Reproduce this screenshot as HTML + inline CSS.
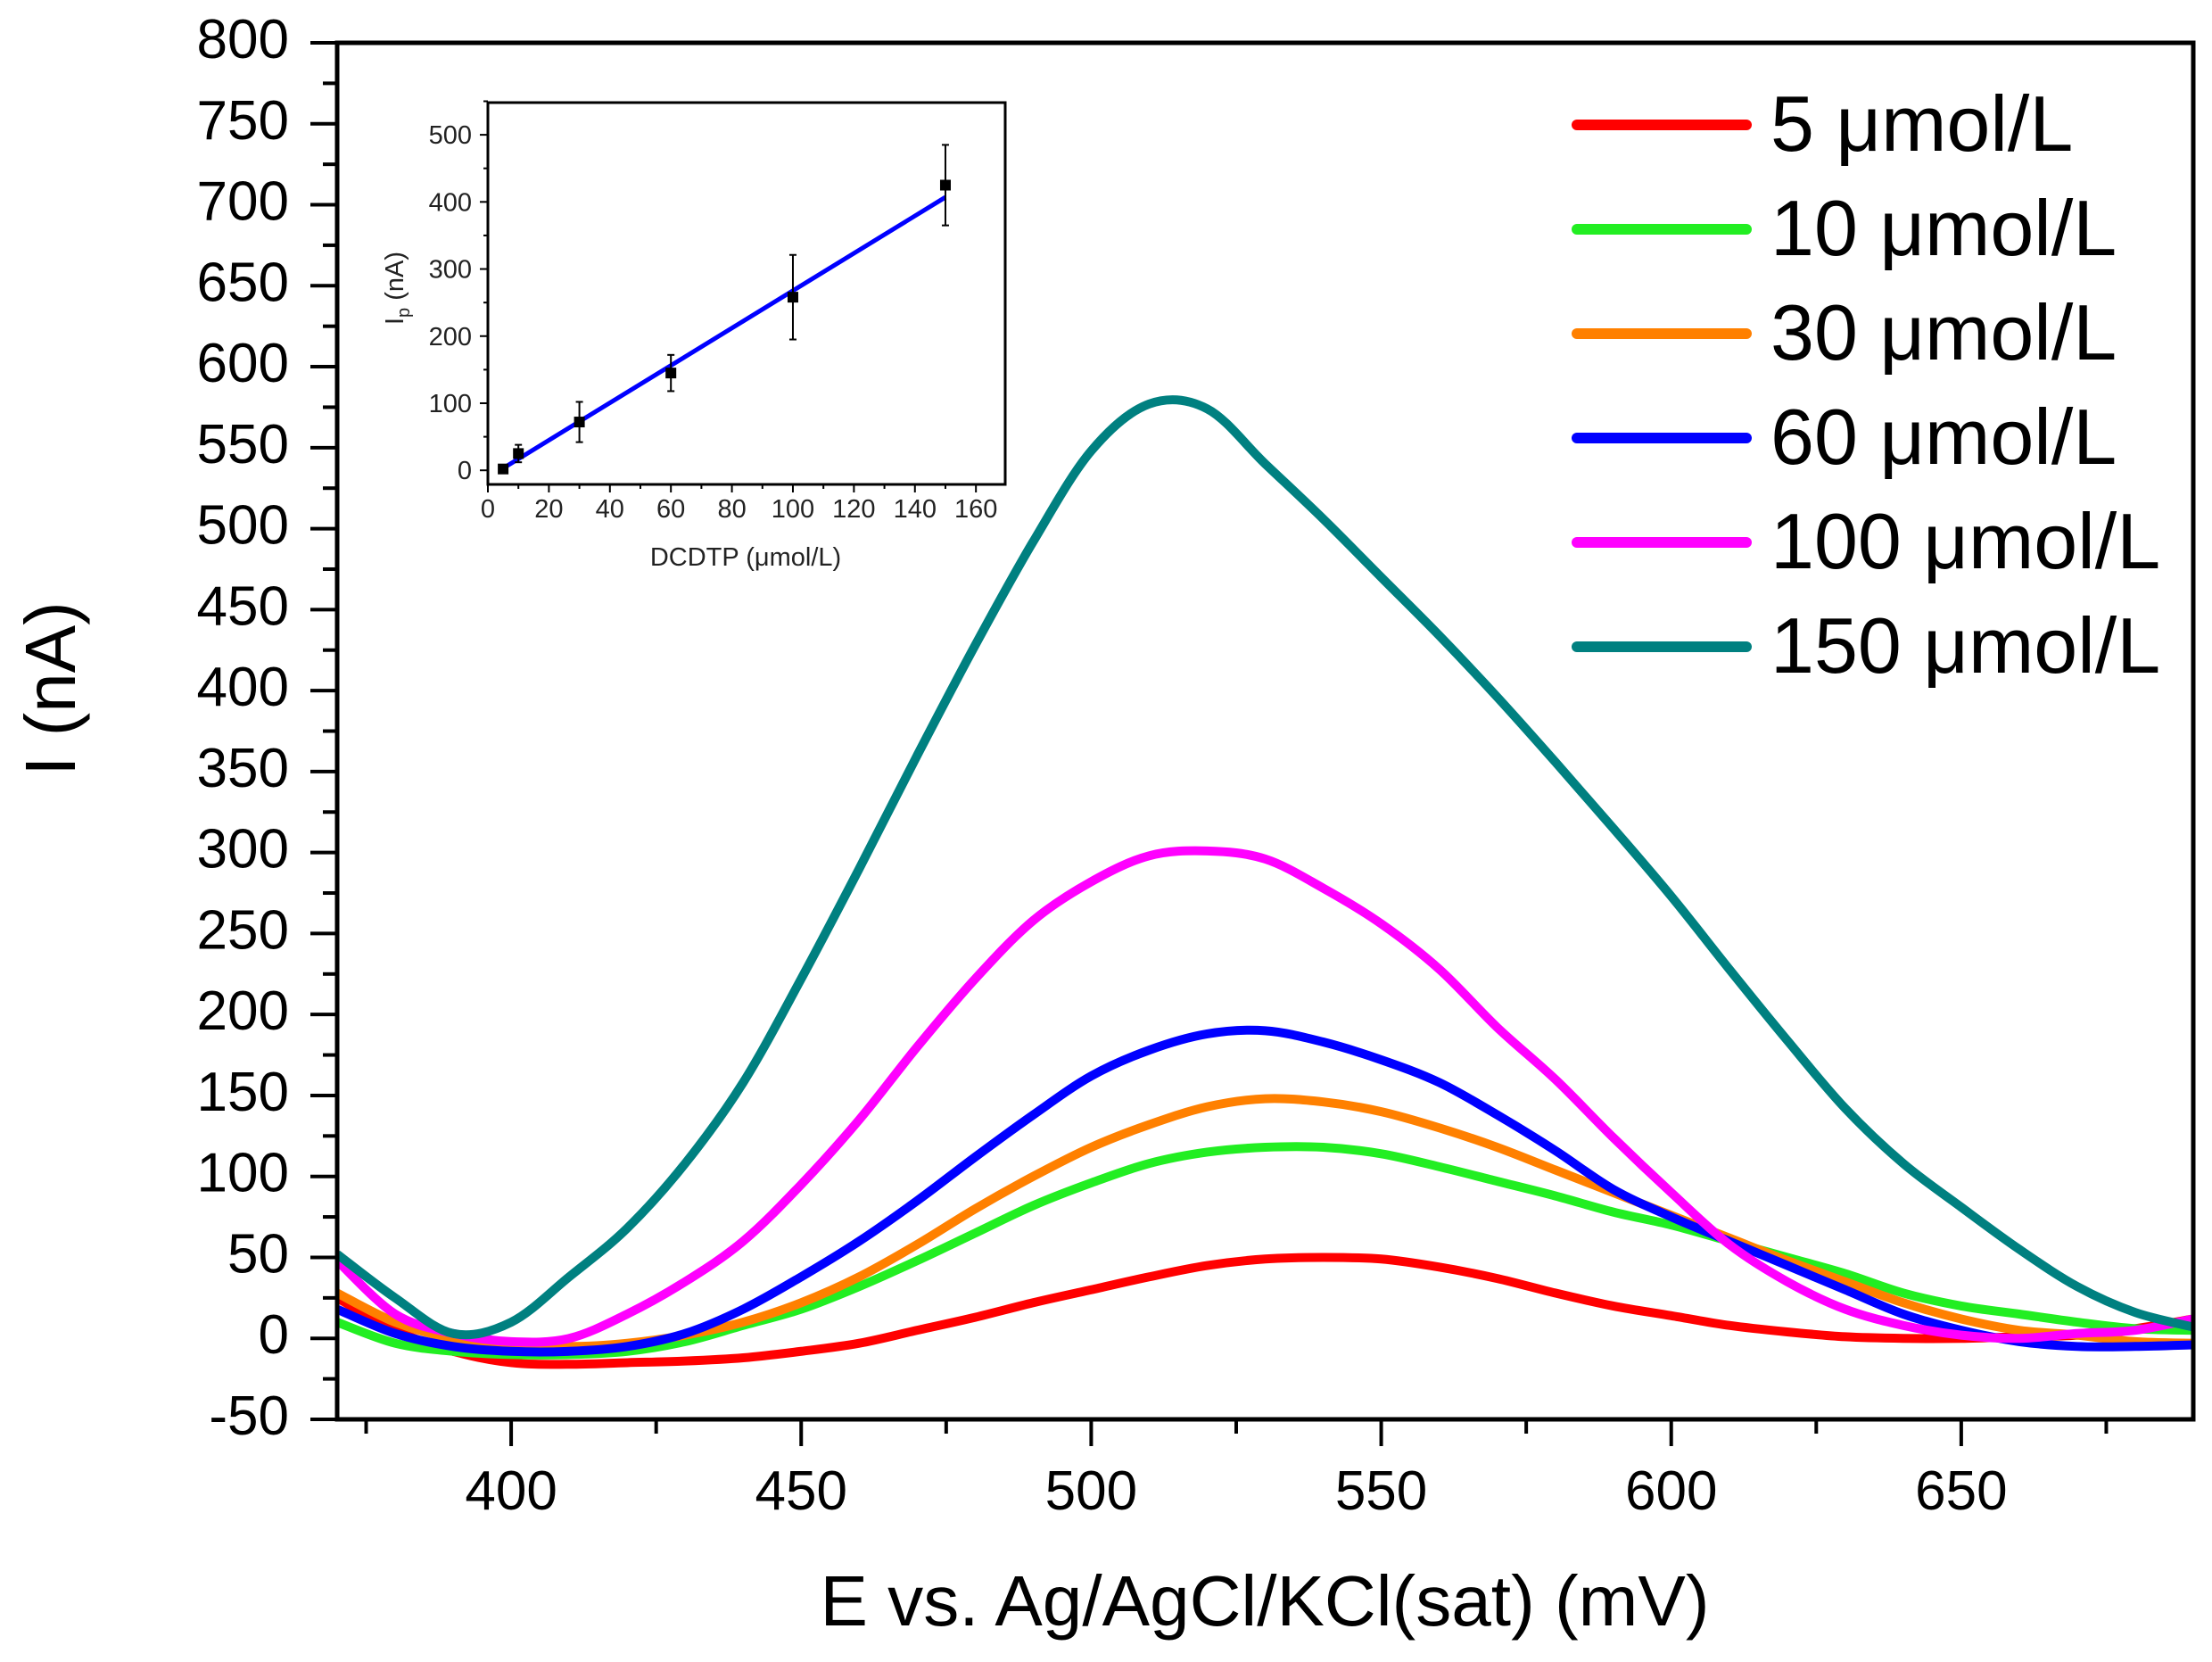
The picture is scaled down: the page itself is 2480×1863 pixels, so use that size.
<!DOCTYPE html>
<html><head><meta charset="utf-8"><style>
html,body{margin:0;padding:0;background:#fff;}
svg{display:block;font-family:"Liberation Sans",Arial,sans-serif;}
</style></head><body>
<svg id="chart" width="2480" height="1863" viewBox="0 0 2480 1863" xmlns="http://www.w3.org/2000/svg">
<rect width="2480" height="1863" fill="#fff"/>
<g id="main"></g>
<g id="inset"></g>
</svg>
<script>
const potentials = [370,380,390,400,410,420,430,440,450,460,470,480,490,500,510,520,530,540,550,560,570,580,590,600,610,620,630,640,650,660,670,680,690];
const seriesNames = ["5 μmol/L","10 μmol/L","30 μmol/L","60 μmol/L","100 μmol/L","150 μmol/L"];
const seriesColors = ["#ff0000","#22ee22","#ff8000","#0000ff","#ff00ff","#008080"];
const s5   = [25,5,-8,-15,-16,-15,-14,-12,-8,-3,5,13,22,30,38,45,49,50,49,44,37,28,20,14,8,4,1,0,0,1,2,6,12];
const s10  = [10,-3,-8,-10,-10,-8,-2,8,18,32,48,65,82,96,108,115,118,118,114,106,97,88,78,70,60,50,40,28,20,15,10,6,5];
const s30  = [28,10,0,-3,-5,-3,2,10,22,38,58,80,100,118,132,143,148,146,140,130,118,104,90,76,62,48,35,22,12,5,2,-2,-3];
const s60  = [18,3,-5,-8,-8,-5,3,18,38,60,85,112,138,162,178,188,190,183,172,158,138,116,92,75,60,45,30,15,5,-2,-5,-5,-4];
const s100 = [48,15,3,-2,0,15,35,60,95,135,180,222,258,282,298,301,296,278,256,228,192,160,124,90,58,35,18,8,2,0,3,5,12];
const s150 = [52,25,3,10,38,68,108,158,222,290,360,428,492,548,577,574,540,506,470,434,396,356,315,273,228,184,142,108,81,55,32,16,7];
const yTicks = [-50,0,50,100,150,200,250,300,350,400,450,500,550,600,650,700,750,800];
const xTicks = [400,450,500,550,600,650];

const insetConc = [5,10,30,60,100,150];
const insetIp = [2,25,72,145,258,425];
const insetErr = [4,13,30,27,63,60];
const fitSlope = 2.786, fitIntercept = -10.9;
const insetXTicks = [0,20,40,60,80,100,120,140,160];
const insetYTicks = [0,100,200,300,400,500];

const NS="http://www.w3.org/2000/svg";
function mk(tag, attrs, parent, text){const e=document.createElementNS(NS,tag);for(const k in attrs)e.setAttribute(k,attrs[k]);if(text!==undefined)e.textContent=text;parent.appendChild(e);return e;}

const L=378,R=2459,T=48,B=1591,xmin=370,xmax=690,ymin=-50,ymax=800;
const X=v=>L+(v-xmin)*(R-L)/(xmax-xmin);
const Y=v=>B-(v-ymin)*(B-T)/(ymax-ymin);
const g=document.getElementById('main');

function smoothPath(px){let d=`M${px[0][0]},${px[0][1]}`;for(let i=0;i<px.length-1;i++){const p0=px[Math.max(0,i-1)],p1=px[i],p2=px[i+1],p3=px[Math.min(px.length-1,i+2)];const c1=[p1[0]+(p2[0]-p0[0])/6,p1[1]+(p2[1]-p0[1])/6],c2=[p2[0]-(p3[0]-p1[0])/6,p2[1]-(p3[1]-p1[1])/6];d+=` C${c1[0]},${c1[1]} ${c2[0]},${c2[1]} ${p2[0]},${p2[1]}`;}return d;}

const allSeries=[s5,s10,s30,s60,s100,s150];
const clip=mk('clipPath',{id:'pc'},g);mk('rect',{x:L,y:T,width:R-L,height:B-T},clip);
allSeries.forEach((s,i)=>{
  const p=mk('path',{d:smoothPath(s.map((v,j)=>[X(potentials[j]),Y(v)])),fill:'none',stroke:seriesColors[i],'stroke-width':10,'stroke-linejoin':'round','clip-path':'url(#pc)'},g);
  
  
});

const fr=mk('rect',{x:L,y:T,width:R-L,height:B-T,fill:'none',stroke:'#000','stroke-width':5},g);



for(let v=-50;v<=800;v+=25){const maj=(v%50===0);mk('line',{x1:L-(maj?30:16),x2:L,y1:Y(v),y2:Y(v),stroke:'#000','stroke-width':4},g);}
yTicks.forEach(v=>{const t=mk('text',{x:324,y:Y(v)+17,'text-anchor':'end','font-size':62},g,String(v));
  
  });
for(let v=375;v<=690;v+=25){const maj=(v%50===0);mk('line',{x1:X(v),x2:X(v),y1:B,y2:B+(maj?30:16),stroke:'#000','stroke-width':4},g);}
xTicks.forEach(v=>{const t=mk('text',{x:X(v),y:1692,'text-anchor':'middle','font-size':62},g,String(v));
  
  });

const yt=mk('text',{x:0,y:0,transform:'translate(84,772) rotate(-90)','text-anchor':'middle','font-size':80},g,'I (nA)');


const xt=mk('text',{x:1418,y:1822,'text-anchor':'middle','font-size':80,textLength:997,lengthAdjust:'spacingAndGlyphs'},g,'E vs. Ag/AgCl/KCl(sat) (mV)');



seriesNames.forEach((n,i)=>{const y=140+i*117;
  const eg=mk('g',{},g);
  
  
  mk('line',{x1:1768,x2:1958,y1:y,y2:y,stroke:seriesColors[i],'stroke-width':12,'stroke-linecap':'round'},eg);
  mk('text',{x:1985,y:y+29,'font-size':88},eg,n);
});

const ig=document.getElementById('inset');
const iL=547,iR=1127,iT=115,iB=543,ixmin=0,ixmax=169.6,iymin=-21,iymax=548;
const IX=v=>iL+(v-ixmin)*(iR-iL)/(ixmax-ixmin);
const IY=v=>iB-(v-iymin)*(iB-iT)/(iymax-iymin);
const ifr=mk('rect',{x:iL,y:iT,width:iR-iL,height:iB-iT,fill:'#fff',stroke:'#000','stroke-width':3},ig);


for(let v=0;v<=160;v+=10){const maj=v%20===0;mk('line',{x1:IX(v),x2:IX(v),y1:iB,y2:iB+(maj?9:5),stroke:'#000','stroke-width':2},ig);}
insetXTicks.forEach(v=>{const t=mk('text',{x:IX(v),y:580,'text-anchor':'middle','font-size':29,fill:'#222'},ig,String(v));
  
  });
for(let v=0;v<=550;v+=50){const maj=v%100===0;mk('line',{x1:iL-(maj?9:5),x2:iL,y1:IY(v),y2:IY(v),stroke:'#000','stroke-width':2},ig);}
insetYTicks.forEach(v=>{const t=mk('text',{x:529,y:IY(v)+10,'text-anchor':'end','font-size':29,fill:'#222'},ig,String(v));
  
  });
const ixt=mk('text',{x:836,y:634,'text-anchor':'middle','font-size':29,fill:'#222'},ig,'DCDTP (μmol/L)');


const iyt=mk('text',{x:0,y:0,transform:'translate(452,323) rotate(-90)','text-anchor':'middle','font-size':29,fill:'#222'},ig);


mk('tspan',{},iyt,'I');mk('tspan',{'font-size':20,dy:7},iyt,'p');mk('tspan',{dy:-7},iyt,' (nA)');
const fx0=insetConc[0],fx1=insetConc[insetConc.length-1];
const fl=mk('line',{x1:IX(fx0),y1:IY(fitSlope*fx0+fitIntercept),x2:IX(fx1),y2:IY(fitSlope*fx1+fitIntercept),stroke:'#0000ff','stroke-width':5},ig);


insetConc.forEach((c,i)=>{
  const eb=mk('g',{},ig);
  
  
  const x=IX(c),y1=IY(insetIp[i]+insetErr[i]),y2=IY(insetIp[i]-insetErr[i]);
  mk('line',{x1:x,x2:x,y1:y1,y2:y2,stroke:'#000','stroke-width':2},eb);
  mk('line',{x1:x-4,x2:x+4,y1:y1,y2:y1,stroke:'#000','stroke-width':2},eb);
  mk('line',{x1:x-4,x2:x+4,y1:y2,y2:y2,stroke:'#000','stroke-width':2},eb);
  mk('rect',{x:x-6,y:IY(insetIp[i])-6,width:12,height:12,fill:'#000'},eb);
});
</script>
</body></html>
